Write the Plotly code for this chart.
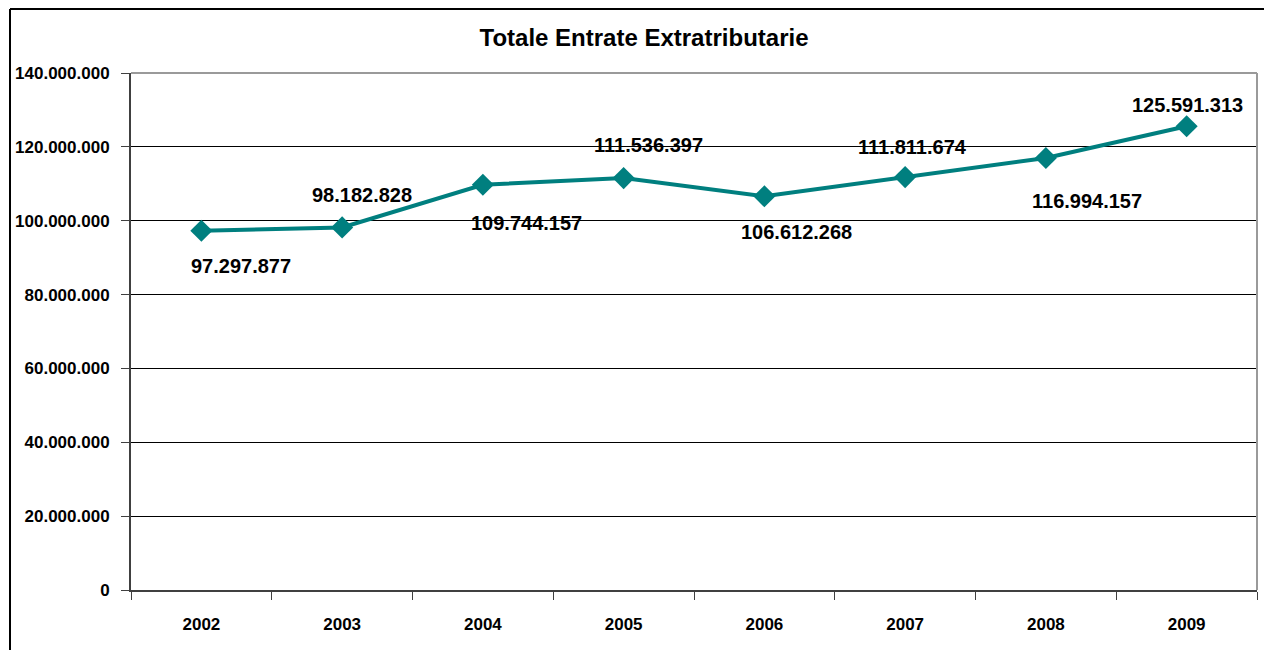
import plotly.graph_objects as go

# Annual totals of non-tax revenue
years = ["2002", "2003", "2004", "2005", "2006", "2007", "2008", "2009"]
totals = [97297877, 98182828, 109744157, 111536397, 106612268, 111811674, 116994157, 125591313]

# Pixel offsets of each value label from its marker (x right, y up)
label_dx = [40, 20, 44, 25, 32, 7, 41, 1]
label_dy = [-35, 32, -38, 33, -36, 30, -43, 21]

FONT = "Liberation Sans, Arial, sans-serif"
TEAL = "#007F7F"

W, H = 1264, 650
L, R, T, B = 131, 1257, 73, 590


def fmt(v):
    return f"{v:,}".replace(",", ".")


fig = go.Figure()
fig.add_trace(go.Scatter(
    x=years, y=totals, mode="lines+markers",
    line=dict(color=TEAL, width=4),
    marker=dict(symbol="diamond", size=17, color=TEAL),
    hoverinfo="x+y", showlegend=False,
))

annotations = []
for i, (v, dx, dy) in enumerate(zip(totals, label_dx, label_dy)):
    annotations.append(dict(
        x=i, y=v, xref="x", yref="y", text=fmt(v), showarrow=False,
        xshift=dx, yshift=dy, xanchor="center", yanchor="middle",
        font=dict(family=FONT, size=20, color="#000000", weight="bold"),
    ))

pw, ph = R - L, B - T
px = lambda x: (x - L) / pw
py = lambda y: (B - y) / ph

shapes = [
    # outer chart frame (left and top edges)
    dict(type="line", xref="paper", yref="paper", x0=px(10), x1=px(10), y0=py(700), y1=py(9),
         line=dict(color="#000000", width=2)),
    dict(type="line", xref="paper", yref="paper", x0=px(10), x1=px(1300), y0=py(9), y1=py(9),
         line=dict(color="#000000", width=2)),
    # grey top and right edges of the plot area
    dict(type="line", xref="paper", yref="paper", x0=0, x1=1, y0=1, y1=1,
         line=dict(color="#9a9a9a", width=2), layer="above"),
    dict(type="line", xref="paper", yref="paper", x0=1, x1=1, y0=0, y1=1,
         line=dict(color="#9a9a9a", width=2), layer="above"),
]

fig.update_layout(
    width=W, height=H,
    margin=dict(l=L, r=W - R, t=T, b=H - B),
    paper_bgcolor="white", plot_bgcolor="white",
    separators=",.",
    title=dict(
        text="Totale Entrate Extratributarie",
        x=644 / W, xref="container", xanchor="center",
        y=1 - 38 / H, yref="container", yanchor="middle",
        font=dict(family=FONT, size=24, color="#000000", weight="bold"),
    ),
    xaxis=dict(
        type="category", range=[-0.5, 7.5], automargin=False,
        showline=True, linecolor="#404040", linewidth=2,
        ticks="outside", tickson="boundaries", ticklen=8, tickcolor="#404040", tickwidth=1,
        ticklabelstandoff=18,
        showgrid=False,
        tickfont=dict(family=FONT, size=17, color="#000000", weight="bold"),
    ),
    yaxis=dict(
        range=[0, 140e6], dtick=20e6, tickformat=",d", automargin=False,
        showline=True, linecolor="#404040", linewidth=2,
        ticks="outside", ticklen=8, tickcolor="#404040", tickwidth=1,
        ticklabelstandoff=8,
        showgrid=True, gridcolor="#000000", gridwidth=1, zeroline=False,
        tickfont=dict(family=FONT, size=17, color="#000000", weight="bold"),
    ),
    annotations=annotations,
    shapes=shapes,
)

fig.write_html("out.html")
